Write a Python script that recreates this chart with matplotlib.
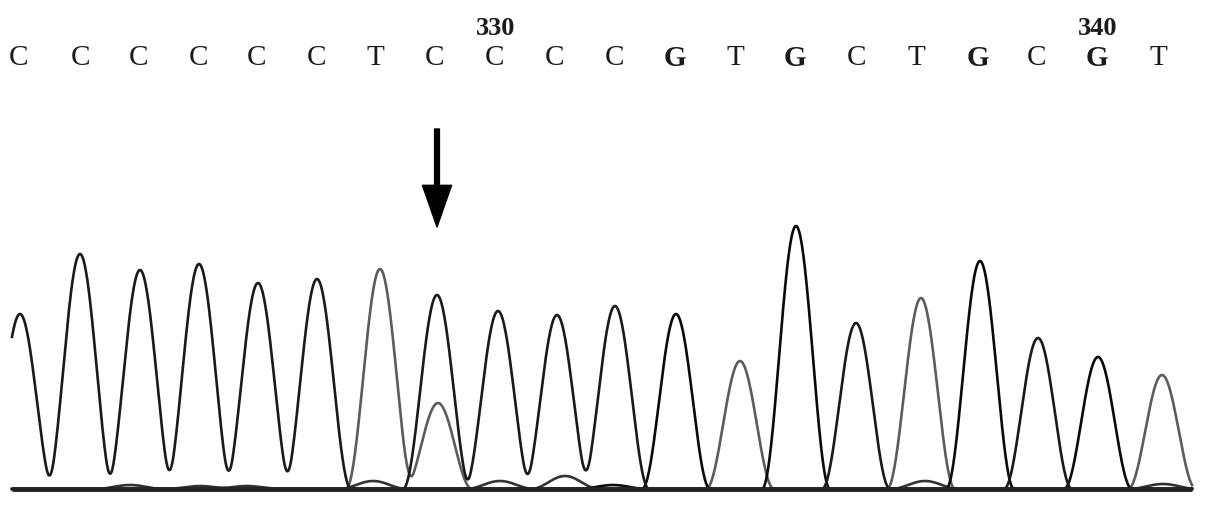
import numpy as np
import matplotlib.pyplot as plt

# base calls and their positions along the trace
bases = list("CCCCCCTCCCCGTGCTGCGT")
call_x = [18, 80, 139, 198, 257, 316, 375, 435, 495, 555, 614, 675, 735, 795, 856, 916, 978, 1037, 1097, 1158]
peak_x = [20, 80, 140, 199, 258, 317, 380, 437, 498, 557, 615, 676, 740, 796, 856, 921, 980, 1038, 1098, 1162]
peak_h = [175, 235, 219, 225, 206, 210, 220, 194, 178, 174, 183, 175, 128, 263, 166, 191, 228, 151, 132, 114]

# position numbers above the calls
num_labels = ["330", "340"]
num_index = [8, 18]

# secondary / minor peaks: (x, height, base)
minor_x = [438, 130, 200, 373, 500, 565, 613, 925, 1163, 247]
minor_h = [86, 4, 3, 8, 8, 13, 4, 8, 5, 3]
minor_b = ["T", "A", "A", "A", "A", "A", "G", "A", "A", "A"]

trace_colors = {"C": "#1a1a1a", "G": "#0a0a0a", "T": "#5c5c5c", "A": "#333333"}
half_w = 34
x0, x1 = 12, 1192


def peak(xs, px, ph, w=half_w):
    d = np.abs(xs - px)
    return np.where(d < w, ph * np.cos(np.pi * d / (2 * w)) ** 2, 0.0)


fig = plt.figure(figsize=(12.05, 5.06), dpi=100)
ax = fig.add_axes([0, 0, 1, 1])
ax.set_xlim(0, 1205)
ax.set_ylim(-16, 490)
ax.axis('off')

xs = np.linspace(x0, x1, 2400)
for b in ["A", "T", "G", "C"]:
    y = np.zeros_like(xs)
    for px, ph, pb in zip(peak_x, peak_h, bases):
        if pb == b:
            y += peak(xs, px, ph)
    for px, ph, pb in zip(minor_x, minor_h, minor_b):
        if pb == b:
            y += peak(xs, px, ph)
    ax.plot(xs, y, color=trace_colors[b], lw=1.9, solid_joinstyle='round')

# baseline
ax.plot([x0, x1], [0, 0], color='#222222', lw=3.5, solid_capstyle='butt')

# base letters
for bx, b in zip(call_x, bases):
    ax.text(bx, 432, b, ha='center', va='center', fontsize=21,
            family='Liberation Serif', fontweight='bold' if b == 'G' else 'normal',
            color='#1a1a1a')

for lab, i in zip(num_labels, num_index):
    ax.text(call_x[i] + 1, 462, lab, ha='center', va='center', fontsize=19,
            family='Liberation Serif', fontweight='bold', color='#1a1a1a')

# arrow marking the heterozygous position
ax.annotate('', xy=(peak_x[7], 262), xytext=(peak_x[7], 360),
            arrowprops=dict(facecolor='black', edgecolor='black', width=3.5,
                            headwidth=21, headlength=30, shrink=0))

fig.savefig('out.png', dpi=100)
